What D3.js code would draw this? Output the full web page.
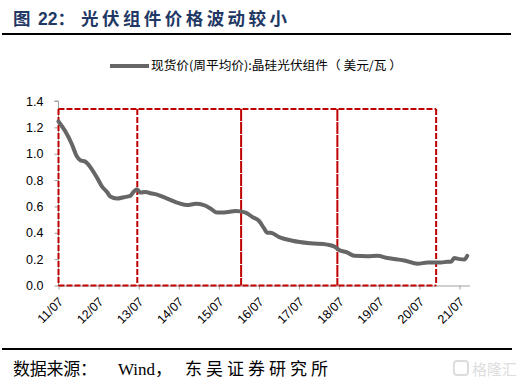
<!DOCTYPE html>
<html><head><meta charset="utf-8">
<script src="https://cdn.jsdelivr.net/npm/d3@7"></script>
<style>body{margin:0;background:#fff}svg{display:block}</style>
</head><body>
<svg id="c" width="525" height="389"></svg>
<script>
const dates = ["2011-07-01","2011-09-01","2011-11-01","2011-12-15","2012-01-15","2012-03-01","2012-05-01","2012-06-15","2012-08-01","2012-09-15","2012-10-15","2012-12-15","2013-02-15","2013-04-15","2013-05-15","2013-06-15","2013-07-15","2013-09-01","2013-10-15","2013-12-15","2014-02-15","2014-04-15","2014-07-01","2014-09-15","2014-12-01","2015-02-15","2015-04-15","2015-06-15","2015-08-15","2015-12-01","2016-03-01","2016-05-01","2016-07-01","2016-08-15","2016-09-15","2016-10-15","2017-01-01","2017-05-01","2017-10-15","2018-03-15","2018-05-15","2018-07-01","2018-09-15","2018-11-15","2019-03-15","2019-06-15","2019-09-15","2020-02-15","2020-06-15","2020-09-15","2021-01-15","2021-03-15","2021-04-15","2021-05-15","2021-07-01","2021-08-15","2021-09-10"];
const prices = [1.245,1.17,1.07,0.98,0.95,0.94,0.88,0.82,0.75,0.71,0.675,0.66,0.67,0.68,0.71,0.73,0.705,0.71,0.70,0.69,0.67,0.65,0.625,0.61,0.62,0.61,0.585,0.553,0.553,0.565,0.553,0.52,0.49,0.435,0.40,0.40,0.367,0.34,0.32,0.31,0.297,0.27,0.25,0.225,0.222,0.225,0.208,0.19,0.165,0.175,0.175,0.18,0.18,0.208,0.20,0.197,0.225];
const periodBounds = ["2011-07-01","2013-06-18","2016-01-20","2018-06-15","2020-12-01"];
const boxTop = 1.34;
const yTicks = [0,0.2,0.4,0.6,0.8,1.0,1.2,1.4];
const xTickYears = [2011,2012,2013,2014,2015,2016,2017,2018,2019,2020,2021];
const titleParts = ["图", "22：", "光伏组件价格波动较小"];
const legendLabel = "现货价(周平均价):晶硅光伏组件（ 美元/瓦 ）";
const sourceParts = ["数据来源：", "Wind，", "东吴证券研究所"];

const svg = d3.select("#c");
const parse = d3.timeParse("%Y-%m-%d");
const x = d3.scaleTime().domain([parse("2011-07-01"), parse("2021-10-01")]).range([58.5, 469.5]);
const y = d3.scaleLinear().domain([0,1.4]).range([285.5,101]);

// title
const tf = {"font-family":"'Noto Sans CJK SC'","font-weight":"bold","font-size":17.5,"fill":"#1f3864","y":25};
const t1 = svg.append("text").attr("x",13).text(titleParts[0]);
const t2 = svg.append("text").attr("x",38).attr("font-family","Arial").text(titleParts[1]);
const t3 = svg.append("text").attr("x",81).attr("textLength",206).attr("lengthAdjust","spacing").text(titleParts[2]);
[t1,t2,t3].forEach(t=>Object.entries(tf).forEach(([k,v])=>{ if(!(k==="font-family"&&t===t2)) t.attr(k,v); }));
t2.attr("font-family","'Liberation Sans','Noto Sans CJK SC'");
svg.append("line").attr("x1",2).attr("x2",511).attr("y1",34).attr("y2",34).attr("stroke","#000").attr("stroke-width",2);

// legend
svg.append("line").attr("x1",110).attr("x2",149).attr("y1",66).attr("y2",66).attr("stroke","#666").attr("stroke-width",4);
svg.append("text").attr("x",151).attr("y",70).attr("font-family","'Noto Sans CJK SC'").attr("font-size",12)
  .attr("textLength",251).attr("lengthAdjust","spacingAndGlyphs").attr("fill","#000").text(legendLabel);

// y axis
const ya = svg.append("g").attr("transform","translate(58.5,0)")
  .call(d3.axisLeft(y).tickValues(yTicks).tickFormat(d3.format(".1f")).tickSize(4).tickPadding(11));
ya.select(".domain").attr("stroke","#a0a0a0").attr("d","M-4,101H0V285.5");
ya.selectAll(".tick line").attr("stroke","#a0a0a0");
ya.selectAll("text").attr("font-family","Arial, 'Liberation Sans'").attr("font-size",12.5).attr("fill","#000");

// x axis
const xa = svg.append("g").attr("transform","translate(0,285.5)")
  .call(d3.axisBottom(x).tickValues(xTickYears.map(yr=>new Date(yr,6,1))).tickFormat(d=>d3.timeFormat("%y/%m")(d)).tickSize(4).tickSizeOuter(0));
xa.select(".domain").attr("stroke","#a0a0a0");
xa.selectAll(".tick line").attr("stroke","#a0a0a0");
xa.selectAll("text").attr("font-family","Arial, 'Liberation Sans'").attr("font-size",12.5).attr("fill","#000")
  .attr("text-anchor","end").attr("dy",0).attr("x",0).attr("y",0).attr("transform","translate(5,17) rotate(-45)");

// red period boxes
const bx = periodBounds.map(d=>x(parse(d)));
const red = "#c00000";
const g = svg.append("g").attr("fill","none").attr("stroke",red).attr("stroke-width",2);
g.append("line").attr("x1",bx[0]).attr("x2",bx[4]).attr("y1",y(boxTop)).attr("y2",y(boxTop)).attr("stroke-dasharray","6,2");
g.append("line").attr("x1",bx[0]).attr("x2",bx[4]).attr("y1",y(0)).attr("y2",y(0)).attr("stroke-dasharray","6,2");
bx.forEach((v,i)=>{
  g.append("line").attr("x1",v).attr("x2",v).attr("y1",y(boxTop)).attr("y2",y(0))
    .attr("stroke-dasharray",(i===2||i===3)?"12,1":"6,2");
});

// price line
svg.append("path").datum(dates.map((d,i)=>({d:parse(d),v:prices[i]})))
  .attr("fill","none").attr("stroke","#666").attr("stroke-width",4).attr("stroke-linejoin","round").attr("stroke-linecap","round")
  .attr("d",d3.line().x(p=>x(p.d)).y(p=>y(p.v)).curve(d3.curveMonotoneX));

// footer
svg.append("line").attr("x1",2).attr("x2",512).attr("y1",349).attr("y2",349).attr("stroke","#000").attr("stroke-width",2);
const ff = "'Liberation Serif','Noto Sans CJK SC'";
svg.append("text").attr("x",13).attr("y",375).attr("font-family",ff).attr("font-size",17)
  .attr("textLength",84).attr("lengthAdjust","spacing").text(sourceParts[0]);
svg.append("text").attr("x",118).attr("y",375).attr("font-family",ff).attr("font-size",17).text(sourceParts[1]);
svg.append("text").attr("x",185).attr("y",375).attr("font-family",ff).attr("font-size",17)
  .attr("textLength",143).attr("lengthAdjust","spacing").text(sourceParts[2]);

// watermark
svg.append("rect").attr("x",454).attr("y",361).attr("width",14).attr("height",14).attr("rx",3).attr("fill","none").attr("stroke","#ddd").attr("stroke-width",2);
svg.append("text").attr("x",472).attr("y",375).attr("font-family","'Noto Sans CJK SC'").attr("font-size",15).attr("fill","#ddd").text("格隆汇");
</script>
</body></html>
